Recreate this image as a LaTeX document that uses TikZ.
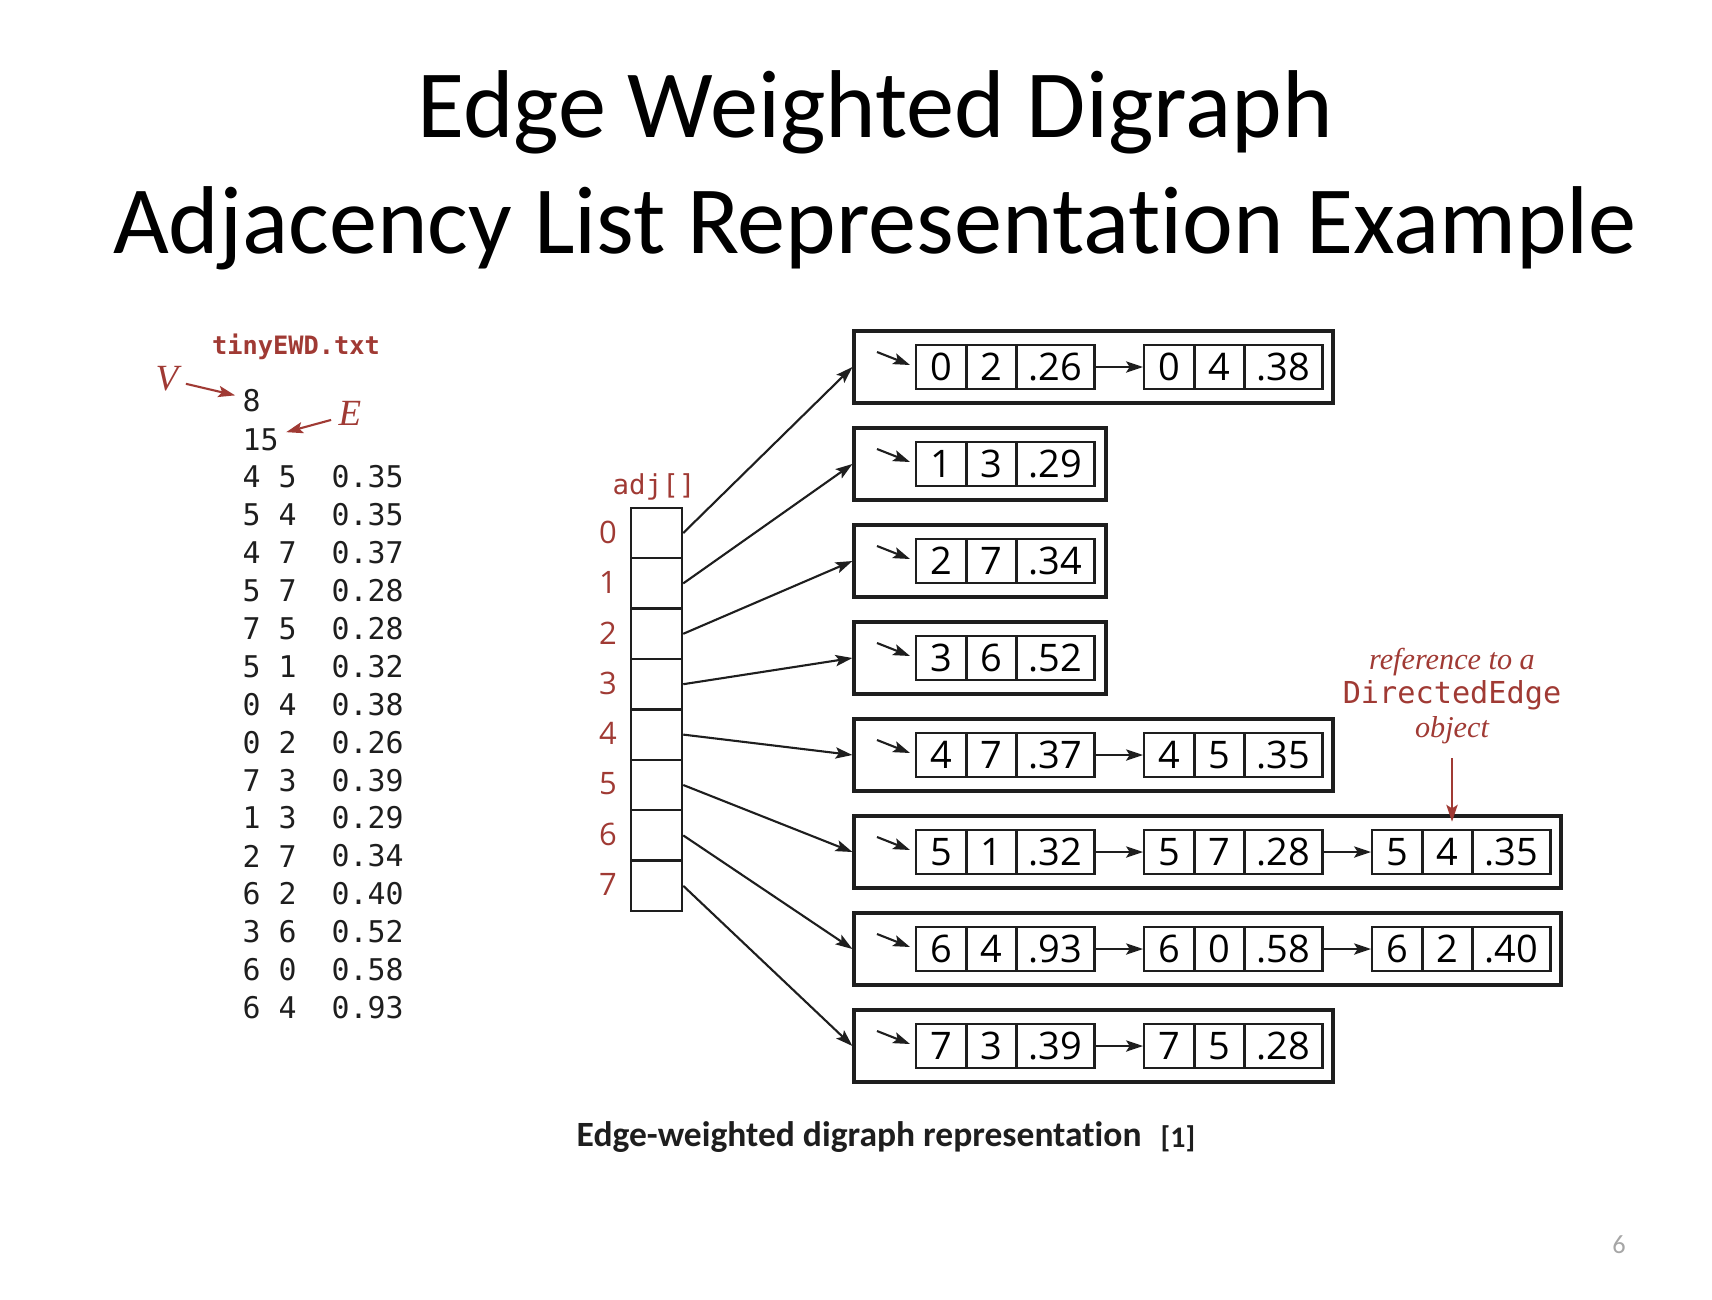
\documentclass[tikz,border=0pt]{standalone}
\usepackage{fontspec}
\usepackage{xcolor}
\usetikzlibrary{arrows.meta,positioning}
\setmainfont{Carlito}[Ligatures=NoCommon]
\newfontfamily\numfont{Open Sans}
\newfontfamily\monofont{DejaVu Sans Mono}
\newfontfamily\notefont{Liberation Serif}
\definecolor{figred}{RGB}{160,58,52}
\definecolor{ink}{RGB}{30,30,30}

\begin{document}
\begin{tikzpicture}[x=0.01cm,y=-0.01cm,
    cell/.style={draw=ink,line width=0.7pt,minimum width=0.5cm,minimum height=0.44cm,inner sep=0pt,
      font=\numfont\fontsize{10.8}{12}\selectfont},
    wcell/.style={cell,minimum width=0.78cm},
    listbox/.style={draw=ink,line width=0.9pt,minimum height=0.72cm,inner sep=0pt},
    slot/.style={draw=ink,line width=0.7pt,minimum width=0.51cm,minimum height=0.504cm,inner sep=0pt},
    ptr/.style={draw=ink,line width=0.6pt,-{Stealth[length=4.8pt,width=3.2pt,inset=1pt]}},
    redptr/.style={ptr,draw=figred,fill=figred},
    filetxt/.style={anchor=west,inner sep=0pt,text=ink,font=\monofont\fontsize{8.5}{10}\selectfont},
    redlbl/.style={text=figred,inner sep=1pt}]
    \useasboundingbox (0,0) rectangle (1712,1300);

    % Title
    \node[font=\fontsize{27.4}{32}\selectfont] (title1) at (875,112) {Edge Weighted Digraph};
    \node[font=\fontsize{27.4}{32}\selectfont] (title2) at (875,228) {Adjacency List Representation Example};

    % Input file (left)
    \node[redlbl,font=\monofont\bfseries\fontsize{7.2}{9}\selectfont] (fname) at (296,347) {tinyEWD.txt};
    \node[filetxt] (nV) at (242,401) {8};
    \node[filetxt] (nE) at (242,440) {15};
    \node[redlbl,font=\notefont\itshape\fontsize{10.5}{12}\selectfont] (lblV) at (167,379) {V};
    \node[redlbl,font=\notefont\itshape\fontsize{10.5}{12}\selectfont] (lblE) at (350,413) {E};
    \draw[redptr,shorten <=1pt,shorten >=2pt] ([yshift=-0.04cm]lblV.east) -- ([yshift=0.04cm]nV.west);
    \draw[redptr,shorten <=1pt,shorten >=2pt] ([yshift=-0.06cm]lblE.west) -- ([yshift=0.06cm]nE.east);
    \foreach \i/\a/\b/\w in {
      0/4/5/0.35, 1/5/4/0.35, 2/4/7/0.37, 3/5/7/0.28, 4/7/5/0.28,
      5/5/1/0.32, 6/0/4/0.38, 7/0/2/0.26, 8/7/3/0.39, 9/1/3/0.29,
      10/2/7/0.34, 11/6/2/0.40, 12/3/6/0.52, 13/6/0/0.58, 14/6/4/0.93
    } {
      \node[filetxt] (fp\i) at (242,{477+37.9*\i}) {\a~\b};
      \node[filetxt] (fw\i) at (331,{477+37.9*\i}) {\w};
    }

    % adj[] array
    \node[redlbl,font=\monofont\fontsize{7.8}{9}\selectfont] (adjlbl) at (654,487) {adj[]};
    \foreach \r/\w in {0/1333,1/1106,2/1106,3/1106,4/1333,5/1561,6/1561,7/1333} {
      \node[slot] (adj\r) at (656.5,{533+50.4*\r}) {};
      \node[redlbl,font=\numfont\fontsize{8.8}{10}\selectfont] (idx\r) at (608,{532+50.4*\r}) {\r};
      \node[listbox,minimum width={(\w-854)*0.01cm}] (row\r) at ({(854+\w)/2},{367+97*\r}) {};
      \draw[ptr] (adj\r.east) -- (row\r.west);
    }

    % DirectedEdge objects
    \foreach \r/\k/\v/\t/\w in {
      0/0/0/2/.26, 0/1/0/4/.38,
      1/0/1/3/.29,
      2/0/2/7/.34,
      3/0/3/6/.52,
      4/0/4/7/.37, 4/1/4/5/.35,
      5/0/5/1/.32, 5/1/5/7/.28, 5/2/5/4/.35,
      6/0/6/4/.93, 6/1/6/0/.58, 6/2/6/2/.40,
      7/0/7/3/.39, 7/1/7/5/.28
    } {
      \node[cell,anchor=west] (e\r-\k-a) at ({915+228*\k},{367+97*\r}) {\v};
      \node[cell,right=-0.7pt of e\r-\k-a] (e\r-\k-b) {\t};
      \node[wcell,right=-0.7pt of e\r-\k-b] (e\r-\k-c) {\w};
    }
    \foreach \r/\k/\n in {0/0/1, 4/0/1, 5/0/1, 5/1/2, 6/0/1, 6/1/2, 7/0/1} {
      \draw[ptr] (e\r-\k-c.east) -- (e\r-\n-a.west);
    }
    \foreach \r in {0,...,7} {
      \coordinate (h\r) at (877,{352+97*\r});
      \draw[ptr] (h\r) -- ([xshift=-0.05cm,yshift=0.02cm]e\r-0-a.west);
    }

    % note
    \node[redlbl,align=center,font=\fontsize{8.6}{9.6}\selectfont] (refnote) at (1452,696)
      {{\notefont\itshape reference to a}\\{\monofont DirectedEdge}\\{\notefont\itshape object}};
    \coordinate (reftip) at (refnote.south |- e5-2-b.north);
    \draw[redptr,shorten <=3pt,shorten >=2pt] (refnote.south) -- (reftip);

    % caption
    \node[anchor=west,inner sep=0pt,text=ink,font=\bfseries\fontsize{10.1}{12}\selectfont] (caption) at (576,1137)
      {Edge-weighted digraph representation};
    \node[anchor=west,inner sep=0pt,text=ink,font=\bfseries\fontsize{8.5}{10}\selectfont] (cite) at (1160,1139) {[1]};
    \node[text=gray!70,font=\fontsize{7.5}{9}\selectfont] (pageno) at (1619,1245) {6};
  \end{tikzpicture}
\end{document}
